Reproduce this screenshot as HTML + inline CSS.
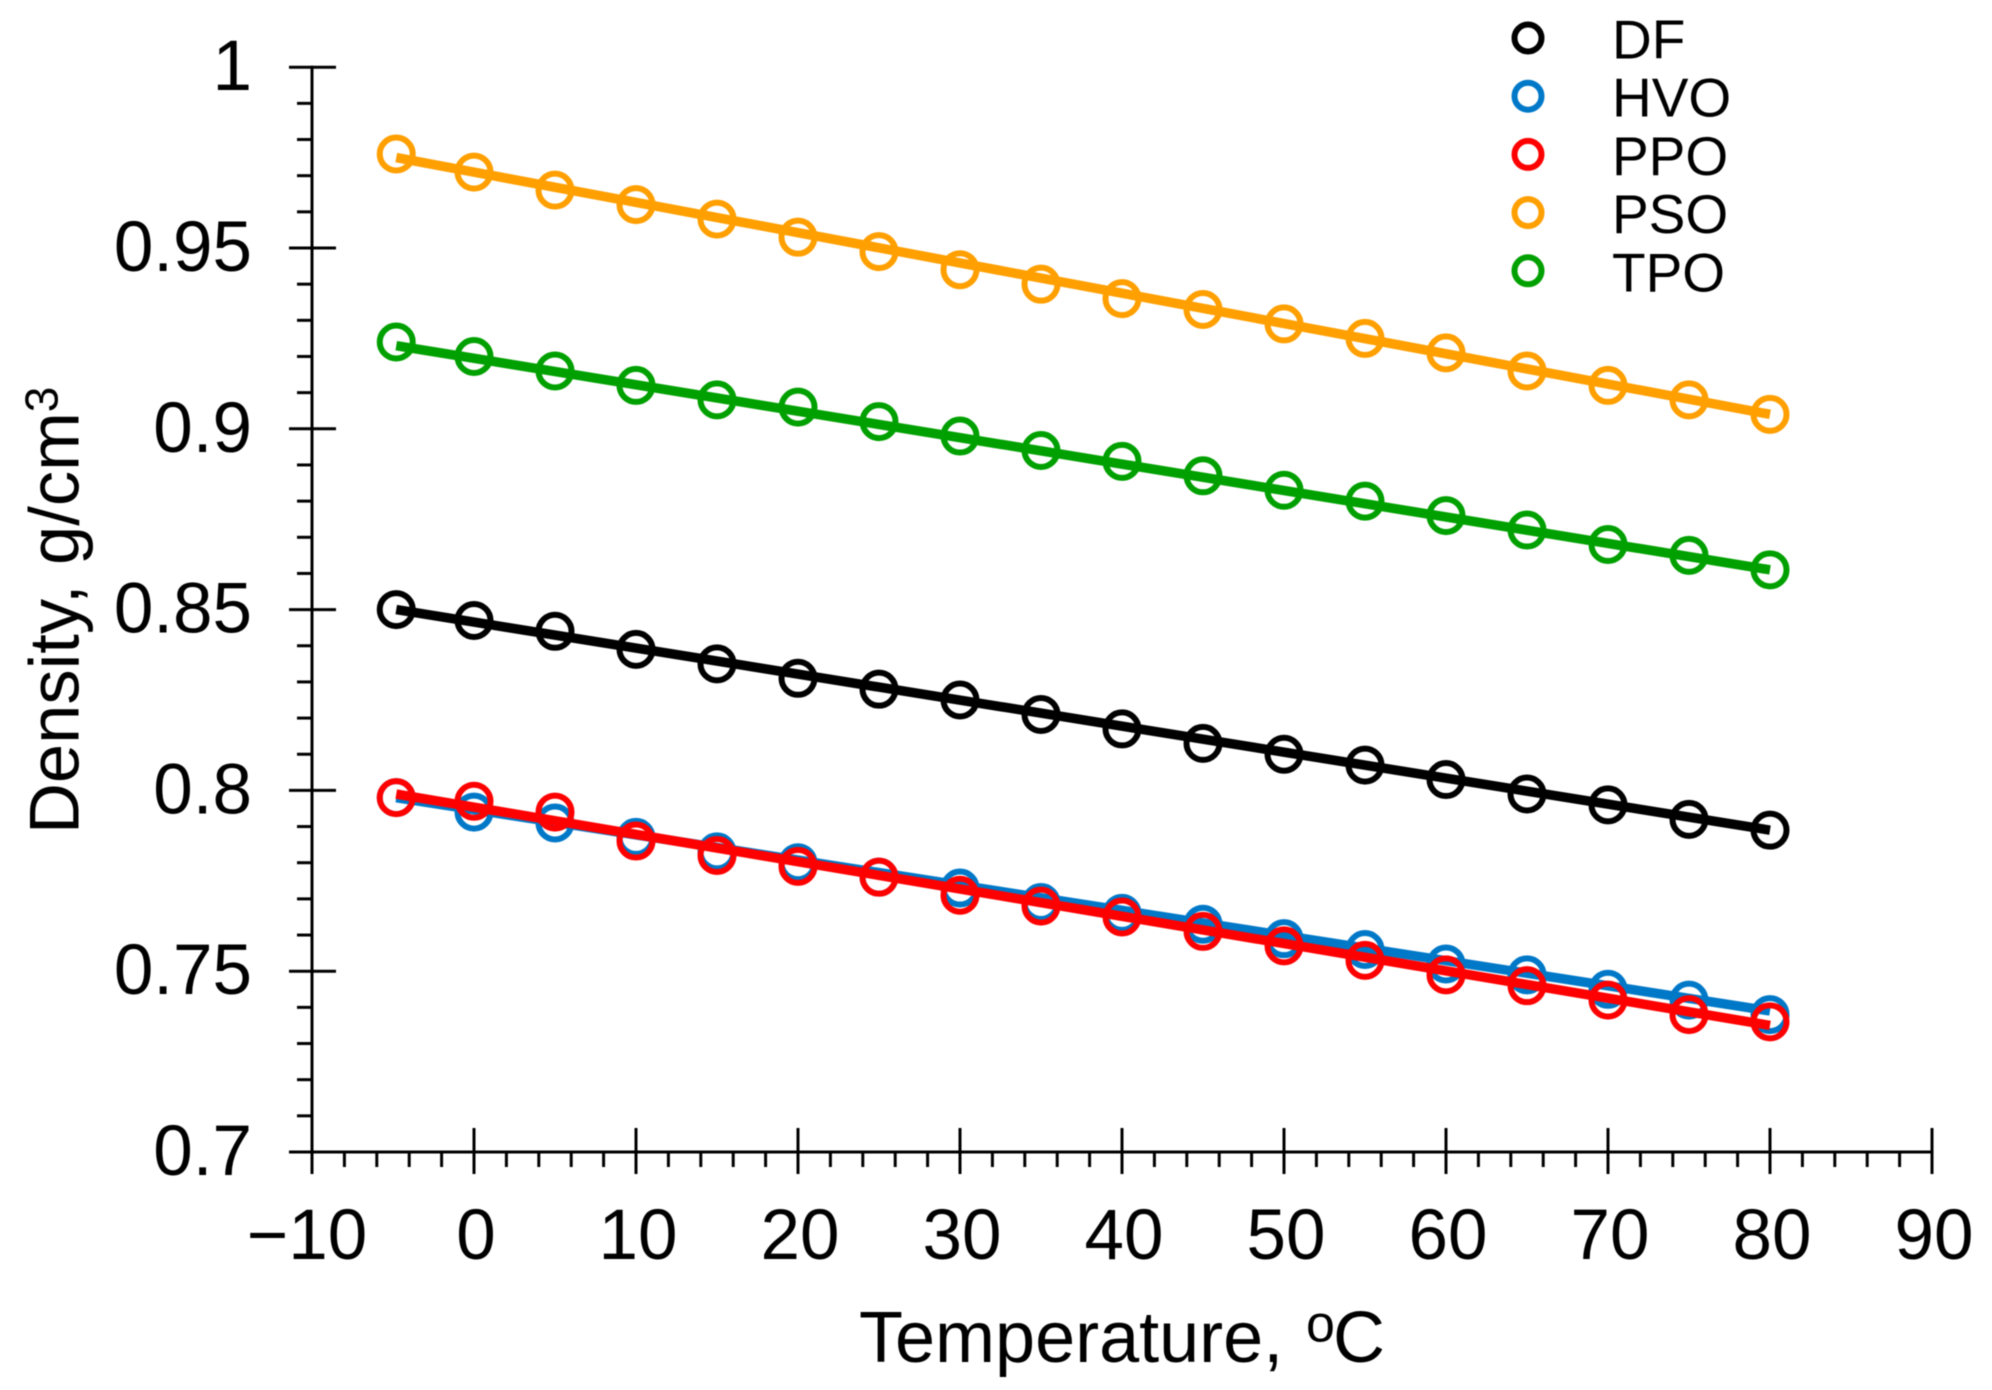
<!DOCTYPE html>
<html lang="en">
<head>
<meta charset="utf-8">
<title>Density vs Temperature</title>
<style>
html,body{margin:0;padding:0;background:#fff;width:1992px;height:1390px;overflow:hidden}
svg{display:block}
text{font-family:"Liberation Sans",Arial,sans-serif;fill:#000}
</style>
</head>
<body>
<svg id="chart" xmlns="http://www.w3.org/2000/svg" width="1992" height="1390" viewBox="0 0 1992 1390">
  <g id="root" style="filter:blur(0.6px)">
    <g id="series-layer"></g>
    <g id="axes-layer"></g>
    <text x="859" y="1362" font-size="72">Temperature, <tspan x="1306" font-size="52" dy="-20.5">o</tspan><tspan x="1333" dy="20.5">C</tspan></text>
    <text transform="translate(78.5,834) rotate(-90)" font-size="70.5">Density, g/cm<tspan font-size="46" dy="-21">3</tspan></text>
    <g id="legend-layer"></g>
  </g>
</svg>
<script>
const temperatures = [-4.8,0,5,10,15,20,25,30,35,40,45,50,55,60,65,70,75,80];
const dfValues  = [.850,.847,.844,.839,.835,.831,.828,.825,.821,.817,.813,.810,.807,.803,.799,.796,.792,.789];
const hvoValues = [.798,.794,.791,.787,.783,.780,.776,.773,.769,.766,.763,.759,.756,.752,.749,.745,.742,.738];
const ppoValues = [.798,.797,.794,.786,.782,.779,.776,.771,.768,.765,.761,.757,.753,.749,.746,.742,.738,.736];
const psoValues = [.976,.971,.966,.962,.958,.953,.949,.944,.940,.936,.933,.929,.925,.921,.916,.912,.908,.904];
const tpoValues = [.924,.920,.916,.912,.908,.906,.902,.898,.894,.891,.887,.883,.880,.876,.872,.868,.865,.861];
const fitTemperatures = [-4.8,80];
const dfFit  = [.850,.789];
const hvoFit = [.798,.739];
const ppoFit = [.799,.735];
const psoFit = [.975,.904];
const tpoFit = [.923,.861];
const seriesNames = ["DF","HVO","PPO","PSO","TPO"];
const seriesColors = ["#000000","#0078C8","#FF0000","#FF9F00","#00A000"];
const seriesPoints = [dfValues,hvoValues,ppoValues,psoValues,tpoValues];
const seriesFits = [dfFit,hvoFit,ppoFit,psoFit,tpoFit];
const xMajorTicks = [-10,0,10,20,30,40,50,60,70,80,90];
const xTickLabels = ["\u221210","0","10","20","30","40","50","60","70","80","90"];
const xMinorStep = 2;
const yMajorTicks = [0.7,0.75,0.8,0.85,0.9,0.95,1];
const yTickLabels = ["0.7","0.75","0.8","0.85","0.9","0.95","1"];
const yMinorStep = 0.01;

const SVGNS = "http://www.w3.org/2000/svg";
function xScale(t){ return 312 + (t + 10) * 16.2; }
function yScale(v){ return 1152 - (v - 0.7) * 3616; }
function make(tag, parent, attrs){
  const el = document.createElementNS(SVGNS, tag);
  for (const k in attrs) el.setAttribute(k, attrs[k]);
  parent.appendChild(el);
  return el;
}
const axes = document.getElementById("axes-layer");
const seriesLayer = document.getElementById("series-layer");
const legendLayer = document.getElementById("legend-layer");

seriesNames.forEach(function(name, i){
  const color = seriesColors[i];
  const key = name.toLowerCase();
  const group = make("g", seriesLayer, {});
  
  
  seriesPoints[i].forEach(function(v, j){
    const c = make("circle", group, {cx:xScale(temperatures[j]), cy:yScale(v), r:16.5, fill:"none", stroke:color, "stroke-width":6});
    
    
  });
  const line = make("line", group, {
    x1:xScale(fitTemperatures[0]), y1:yScale(seriesFits[i][0]),
    x2:xScale(fitTemperatures[1]), y2:yScale(seriesFits[i][1]),
    stroke:color, "stroke-width":9.5
  });
  
  
});

const xAxisLine = make("line", axes, {x1:xScale(-10)-23, y1:yScale(0.7), x2:xScale(90), y2:yScale(0.7), stroke:"#000", "stroke-width":3});


const yAxisLine = make("line", axes, {x1:xScale(-10), y1:yScale(1)-1.5, x2:xScale(-10), y2:yScale(0.7)+22, stroke:"#000", "stroke-width":3});



xMajorTicks.forEach(function(t, i){
  const tick = make("line", axes, {x1:xScale(t), y1:yScale(0.7)-24, x2:xScale(t), y2:yScale(0.7)+22, stroke:"#000", "stroke-width":3});
  
  
  const label = make("text", axes, {x:xScale(t) + (t < 0 ? -5 : 2), y:1259, "font-size":71, "text-anchor":"middle"});
  label.textContent = xTickLabels[i];
  
  
  if (i < xMajorTicks.length - 1) {
    for (let m = t + xMinorStep; m < xMajorTicks[i + 1] - 0.01; m += xMinorStep) {
      const minor = make("line", axes, {x1:xScale(m), y1:yScale(0.7), x2:xScale(m), y2:yScale(0.7)+15, stroke:"#000", "stroke-width":3});
      
      
    }
  }
});

yMajorTicks.forEach(function(v, i){
  const tick = make("line", axes, {x1:xScale(-10)-23, y1:yScale(v), x2:xScale(-10)+24, y2:yScale(v), stroke:"#000", "stroke-width":3});
  
  
  const label = make("text", axes, {x:252, y:yScale(v)+23, "font-size":71, "text-anchor":"end"});
  label.textContent = yTickLabels[i];
  
  
  if (i < yMajorTicks.length - 1) {
    for (let k = 1; k * yMinorStep < yMajorTicks[i + 1] - v - 0.001; k++) {
      const yy = yScale(v + k * yMinorStep);
      const minor = make("line", axes, {x1:xScale(-10)-15, y1:yy, x2:xScale(-10), y2:yy, stroke:"#000", "stroke-width":3});
      
      
    }
  }
});

seriesNames.forEach(function(name, i){
  const rowY = 38 + i * 58.2;
  const key = name.toLowerCase();
  const row = make("g", legendLayer, {});
  
  
  const mark = make("circle", row, {cx:1528, cy:rowY, r:13.5, fill:"none", stroke:seriesColors[i], "stroke-width":6});
  
  
  const text = make("text", row, {x:1612, y:rowY+20.5, "font-size":55});
  text.textContent = name;
  
  
});
</script>
</body>
</html>
